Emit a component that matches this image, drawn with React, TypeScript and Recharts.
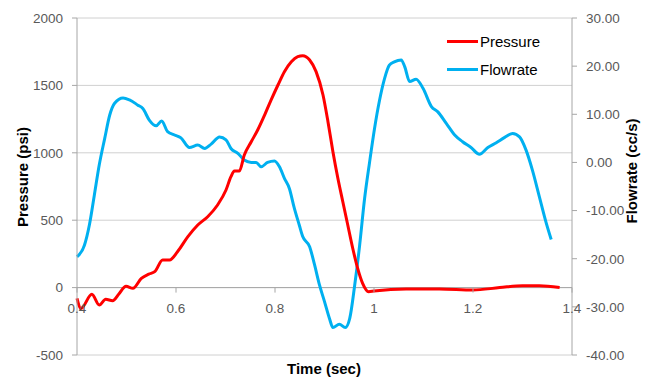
import React from "react";
import { LineChart, Line, XAxis, YAxis, CartesianGrid, ReferenceLine } from "recharts";

// Pressure trace (time in sec, psi)
const pressureTime = [
  0.4, 0.408, 0.43, 0.445, 0.458, 0.472, 0.485, 0.499, 0.513, 0.53, 0.545, 0.557, 0.573, 0.587,
  0.603, 0.624, 0.644, 0.664, 0.684, 0.701, 0.711, 0.718, 0.728, 0.738, 0.752, 0.765, 0.779,
  0.792, 0.806, 0.819, 0.833, 0.846, 0.856, 0.87, 0.883, 0.897, 0.907, 0.917, 0.927, 0.937,
  0.947, 0.957, 0.967, 0.977, 0.989, 1.0, 1.065, 1.132, 1.2, 1.254, 1.3, 1.334, 1.375,
];
const pressureValues = [
  -80, -155, -50, -130, -87, -97, -45, 10, -5, 69, 100, 118, 205, 205,
  266, 378, 464, 526, 613, 724, 823, 865, 865, 984, 1082, 1169, 1280,
  1391, 1503, 1602, 1676, 1713, 1720, 1688, 1602, 1429, 1231, 1008, 811, 637,
  464, 292, 143, 32, -30, -25, -10, -10, -18, 0, 14, 14, 0,
];

// Flowrate trace (time in sec, cc/s)
const flowTime = [
  0.4, 0.415, 0.425, 0.435, 0.445, 0.456, 0.466, 0.476, 0.493, 0.506, 0.523, 0.533, 0.546, 0.56,
  0.571, 0.583, 0.597, 0.61, 0.627, 0.644, 0.658, 0.671, 0.688, 0.701, 0.711, 0.725, 0.738,
  0.752, 0.762, 0.772, 0.785, 0.799, 0.809, 0.819, 0.829, 0.839, 0.849, 0.856, 0.87, 0.88,
  0.89, 0.9, 0.91, 0.917, 0.93, 0.942, 0.951, 0.961, 0.971, 0.981, 0.991, 1.001, 1.011,
  1.021, 1.031, 1.041, 1.055, 1.062, 1.072, 1.085, 1.099, 1.116, 1.129, 1.146, 1.163, 1.179,
  1.196, 1.213, 1.23, 1.247, 1.264, 1.28, 1.294, 1.307, 1.32, 1.334, 1.348, 1.358,
];
const flowValues = [
  -19.6, -17.2, -13, -6.8, -0.5, 5.0, 9.8, 12.3, 13.4, 13.0, 11.9, 11.2, 8.8, 7.6,
  8.6, 6.4, 5.7, 5.1, 3.1, 3.6, 2.9, 3.8, 5.3, 4.7, 2.9, 1.9, 0.5,
  0, 0, -0.9, 0, 0.3, -0.9, -3.3, -5.4, -9.5, -13, -15.4, -17.5, -21.3,
  -25.5, -28.9, -32.4, -34.3, -33.6, -34.3, -32.4, -25.5, -17.2, -7.5, 0, 7, 12.8,
  17.3, 20.2, 20.9, 21.3, 19.9, 16.8, 17.3, 15.4, 11.6, 10.5, 8.1, 5.7, 4.3,
  3.1, 1.7, 3.1, 4.1, 5.2, 6.0, 5.3, 2.6, -1.6, -7.1, -12.6, -16,
];

const timeTicks = [0.4, 0.6, 0.8, 1, 1.2, 1.4];
const pressureTicks = [-500, 0, 500, 1000, 1500, 2000];
const flowTicks = [-40, -30, -20, -10, 0, 10, 20, 30];

const series = [
  { name: "Pressure", color: "#ff0000" },
  { name: "Flowrate", color: "#00b0f0" },
];

const pressureData = pressureTime.map((t, i) => ({ t, value: pressureValues[i] }));
const flowData = flowTime.map((t, i) => ({ t, value: flowValues[i] }));

const W = 652;
const H = 377;
const TOP = 18;
const BOTTOM_AXIS = 22;
const PLOT_H = H - TOP - BOTTOM_AXIS;
const P_MIN = -500;
const P_MAX = 2000;
const AXIS_GRAY = "#a6a6a6";
const TEXT_GRAY = "#595959";
const FONT = "'Liberation Sans', Arial, sans-serif";

// x labels sit on the zero pressure line, not the bottom of the plot
const TimeTick = (props: any) => {
  const { x, payload } = props;
  const zeroY = TOP + (PLOT_H * P_MAX) / (P_MAX - P_MIN);
  return (
    <g>
      <line x1={x} x2={x} y1={zeroY} y2={zeroY + 5} stroke={AXIS_GRAY} />
      <text x={x} y={zeroY + 25} textAnchor="middle" fill={TEXT_GRAY} fontSize={13.5}>
        {payload.value}
      </text>
    </g>
  );
};

const titleStyle: React.CSSProperties = {
  position: "absolute",
  fontWeight: "bold",
  fontSize: 15,
  color: "#000",
  whiteSpace: "nowrap",
};

export default function App() {
  return (
    <div style={{ position: "absolute", left: 0, top: 0, width: W, height: H, fontFamily: FONT, background: "#fff" }}>
      <LineChart width={W} height={H} margin={{ top: TOP, right: 20, bottom: 0, left: 17 }}>
        <CartesianGrid vertical={false} stroke="#d0d0d0" yAxisId="left" />
        <XAxis
          type="number"
          dataKey="t"
          domain={[0.4, 1.4]}
          ticks={timeTicks}
          interval={0}
          height={BOTTOM_AXIS}
          axisLine={false}
          tickLine={false}
          tick={<TimeTick />}
          allowDuplicatedCategory={false}
        />
        <YAxis
          yAxisId="left"
          domain={[P_MIN, P_MAX]}
          ticks={pressureTicks}
          width={60}
          tickSize={5}
          tickMargin={9}
          axisLine={{ stroke: AXIS_GRAY }}
          tickLine={{ stroke: AXIS_GRAY }}
          tick={{ fill: TEXT_GRAY, fontSize: 13.5 }}
        />
        <YAxis
          yAxisId="right"
          orientation="right"
          domain={[-40, 30]}
          ticks={flowTicks}
          width={60}
          tickSize={5}
          tickMargin={9}
          tickFormatter={(v: number) => v.toFixed(2)}
          axisLine={{ stroke: AXIS_GRAY }}
          tickLine={{ stroke: AXIS_GRAY }}
          tick={{ fill: TEXT_GRAY, fontSize: 13.5, textAnchor: "start" }}
        />
        <ReferenceLine yAxisId="left" y={0} stroke={AXIS_GRAY} />
        <Line
          yAxisId="right"
          data={flowData}
          dataKey="value"
          name="Flowrate"
          type="monotone"
          stroke={series[1].color}
          strokeWidth={3}
          dot={false}
          isAnimationActive={false}
        />
        <Line
          yAxisId="left"
          data={pressureData}
          dataKey="value"
          name="Pressure"
          type="monotone"
          stroke={series[0].color}
          strokeWidth={3}
          dot={false}
          isAnimationActive={false}
        />
      </LineChart>

      <div style={{ ...titleStyle, left: 22, top: 177, transform: "translate(-50%, -50%) rotate(-90deg)" }}>
        Pressure (psi)
      </div>
      <div style={{ ...titleStyle, left: 631, top: 171, transform: "translate(-50%, -50%) rotate(-90deg)" }}>
        Flowrate (cc/s)
      </div>
      <div style={{ ...titleStyle, left: 324, top: 368, transform: "translate(-50%, -50%)" }}>Time (sec)</div>

      <div style={{ position: "absolute", left: 447, top: 27, fontSize: 15, color: "#000" }}>
        {series.map((s) => (
          <div key={s.name} style={{ display: "flex", alignItems: "center", height: 28 }}>
            <span style={{ display: "inline-block", width: 31, height: 3, background: s.color, marginRight: 2 }} />
            <span>{s.name}</span>
          </div>
        ))}
      </div>
    </div>
  );
}
